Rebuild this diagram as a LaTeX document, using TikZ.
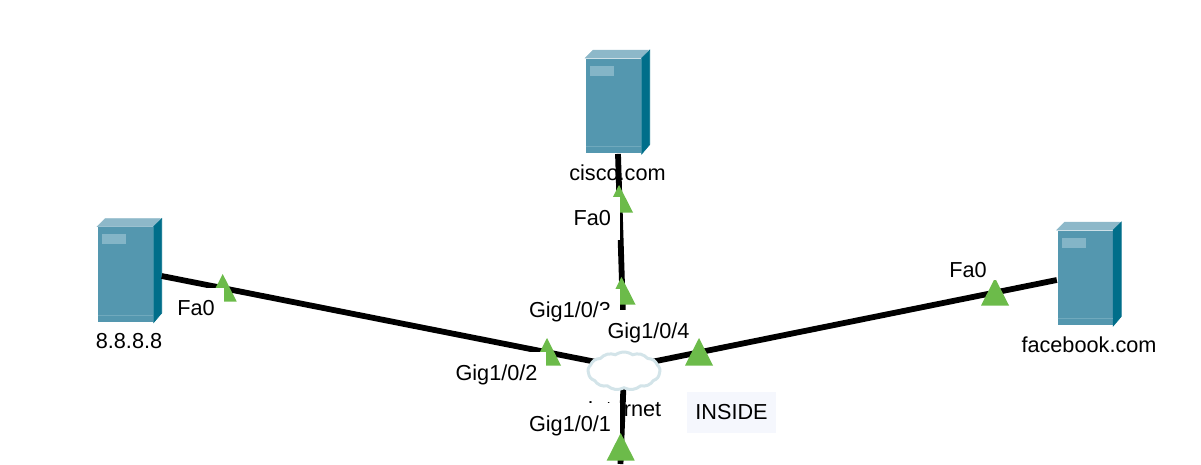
\documentclass[tikz,border=0pt]{standalone}
\usepackage{fontspec}
\setmainfont{Liberation Sans}
\usetikzlibrary{shapes.symbols}
\definecolor{serverfront}{HTML}{5497AF}
\definecolor{servertop}{HTML}{8DB8C9}
\definecolor{serverside}{HTML}{006E8A}
\definecolor{serverpanel}{HTML}{84B5C7}
\definecolor{serverstrip}{HTML}{70A9BD}
\definecolor{portgreen}{HTML}{6CBB4A}
\definecolor{cloudline}{HTML}{D3E4E9}
\definecolor{insidefill}{HTML}{F5F7FD}
\tikzset{
  every node/.style={font=\fontsize{6.17}{7.4}\selectfont},
  link/.style={line width=0.058cm},
  devlabel/.style={anchor=base,inner sep=0},
  portlabel/.style={anchor=base,fill=white,inner xsep=0.09cm,inner ysep=0,text height=0.28cm,text depth=0.15cm},
  pics/server/.style={code={
    \node[fill=serverfront,inner sep=0,minimum width=0.55cm,minimum height=0.945cm] (body) at (0,0) {};
    \path[fill=servertop,draw=servertop,line width=0.006cm] (body.north west) -- ++(0.08,0.08) -- ++(0.55,0) -- (body.north east) -- cycle;
    \path[fill=serverside,draw=serverside,line width=0.006cm] (body.north east) -- ++(0.08,0.08) -- ++(0,-0.945) -- (body.south east) -- cycle;
    \fill[serverpanel] (-0.235,0.405) rectangle (0.005,0.305);
    \draw[serverstrip,line width=0.008cm] (-0.275,-0.405) -- (0.275,-0.405);
  }},
  pics/portmark/.style={code={
    \fill[portgreen] (0,0) -- (-0.14,-0.275) -- (0.14,-0.275) -- cycle;
  }}
}
\begin{document}
\begin{tikzpicture}
\useasboundingbox (0,0) rectangle (12.01,4.64);
% texts the lines run over
\node[devlabel] (ciscolabel) at (6.175,2.833) {cisco.com};
\node[devlabel] (hublabel) at (6.245,0.48) {Internet};
\node[devlabel] (dnslabel) at (1.29,1.16) {8.8.8.8};
\node[devlabel] (facebooklabel) at (10.89,1.12) {facebook.com};
% servers
\pic (cisco) at (6.135,3.58) {server};
\pic (dns) at (1.255,1.895) {server};
\pic (facebook) at (10.85,1.86) {server};
% links
\coordinate (hub) at (6.24,0.93);
\coordinate (bottomend) at (6.205,0);
\draw[link] ([xshift=0.045cm]ciscobody.south) -- ([yshift=0.22cm]hub);
\draw[link] ([xshift=0.08cm,yshift=-0.015cm]dnsbody.east) -- ([yshift=0.035cm]hub);
\draw[link] ([yshift=-0.02cm]facebookbody.west) -- ([yshift=0.035cm]hub);
\draw[link] (hub) -- (bottomend);
% port marks
\pic (markciscotop) at (6.19,2.79) {portmark};
\pic (markciscolow) at (6.215,1.87) {portmark};
\pic (markdns) at (2.227,1.90) {portmark};
\pic (markgigtwo) at (5.47,1.26) {portmark};
\pic (markfacebook) at (9.95,1.86) {portmark};
% port labels
\node[portlabel] (fadns) at (1.96,1.483) {Fa0};
\node[portlabel] (facisco) at (5.923,2.39) {Fa0};
\node[portlabel,text depth=0.02cm] (fafacebook) at (9.68,1.863) {Fa0};
\node[portlabel] (gigtwo) at (4.965,0.84) {Gig1/0/2};
\node[portlabel] (gigthree) at (5.70,1.47) {Gig1/0/3};
\node[portlabel,text depth=0.12cm] (gigfour) at (6.485,1.26) {Gig1/0/4};
\node[portlabel] (gigone) at (5.70,0.33) {Gig1/0/1};
\pic (markgigfour) at (6.99,1.26) {portmark};
\pic (markgigone) at (6.207,0.31) {portmark};
% cloud and note
\node[cloud,cloud puffs=13,cloud puff arc=70,aspect=2,draw=cloudline,fill=white,line width=0.03cm,inner sep=0,minimum width=0.72cm,minimum height=0.38cm] (cloud) at (hub) {};
\node[fill=insidefill,inner sep=0,minimum width=0.89cm,minimum height=0.41cm] (inside) at (7.315,0.515) {INSIDE};
\end{tikzpicture}
\end{document}
